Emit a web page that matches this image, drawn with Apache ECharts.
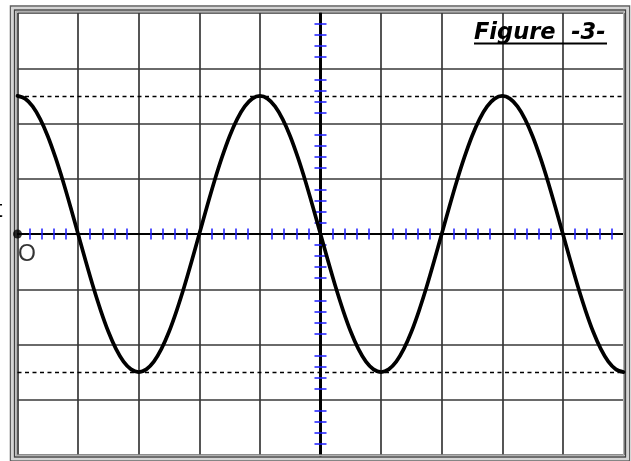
<!DOCTYPE html>
<html>
<head>
<meta charset="utf-8">
<title>Figure -3-</title>
<script src="https://cdn.jsdelivr.net/npm/echarts@6/dist/echarts.min.js"></script>
<style>
  html, body { margin: 0; padding: 0; background: #ffffff; }
  #chart { width: 631px; height: 461px; }
</style>
</head>
<body>
<div id="chart"></div>
<script>
// Oscilloscope trace, read every 1/8 division: time in horizontal divisions,
// amplitude in vertical divisions
const timeDiv = [
  0, 0.125, 0.25, 0.375, 0.5, 0.625, 0.75, 0.875,
  1, 1.125, 1.25, 1.375, 1.5, 1.625, 1.75, 1.875,
  2, 2.125, 2.25, 2.375, 2.5, 2.625, 2.75, 2.875,
  3, 3.125, 3.25, 3.375, 3.5, 3.625, 3.75, 3.875,
  4, 4.125, 4.25, 4.375, 4.5, 4.625, 4.75, 4.875,
  5, 5.125, 5.25, 5.375, 5.5, 5.625, 5.75, 5.875,
  6, 6.125, 6.25, 6.375, 6.5, 6.625, 6.75, 6.875,
  7, 7.125, 7.25, 7.375, 7.5, 7.625, 7.75, 7.875,
  8, 8.125, 8.25, 8.375, 8.5, 8.625, 8.75, 8.875,
  9, 9.125, 9.25, 9.375, 9.5, 9.625, 9.75, 9.875,
  10
];
const traceDiv = [
  2.5, 2.45, 2.31, 2.08, 1.77, 1.39, 0.96, 0.49,
  0, -0.49, -0.96, -1.39, -1.77, -2.08, -2.31, -2.45,
  -2.5, -2.45, -2.31, -2.08, -1.77, -1.39, -0.96, -0.49,
  0, 0.49, 0.96, 1.39, 1.77, 2.08, 2.31, 2.45,
  2.5, 2.45, 2.31, 2.08, 1.77, 1.39, 0.96, 0.49,
  0, -0.49, -0.96, -1.39, -1.77, -2.08, -2.31, -2.45,
  -2.5, -2.45, -2.31, -2.08, -1.77, -1.39, -0.96, -0.49,
  0, 0.49, 0.96, 1.39, 1.77, 2.08, 2.31, 2.45,
  2.5, 2.45, 2.31, 2.08, 1.77, 1.39, 0.96, 0.49,
  0, -0.49, -0.96, -1.39, -1.77, -2.08, -2.31, -2.45,
  -2.5
];
// Dashed reference levels at the peaks
const peakLevels = [2.5, -2.5];
// Screen extent in divisions
const xRange = [0, 10];
const yRange = [-4, 4];
const origin = [[0, 0]];
const originLabel = 'O';
const titleText = 'Figure  -3-';
const sideLabel = 't';

// Graticule geometry (pixels)
const G = { left: 17.5, top: 13, width: 606, height: 442 };
const TICK_BLUE = '#1c1cff';
const GRID_GRAY = '#383838';

const chart = echarts.init(document.getElementById('chart'), null, { renderer: 'canvas' });

function xAxisDef(position) {
  return {
    type: 'value', min: xRange[0], max: xRange[1], interval: 1, position: position,
    axisLine: { show: position === 'bottom', onZero: true, lineStyle: { color: '#000', width: 2.2 } },
    axisTick: { show: false },
    minorTick: { show: true, splitNumber: 5, length: 5.5, lineStyle: { color: TICK_BLUE, width: 1.5 } },
    axisLabel: { show: false },
    splitLine: { show: position === 'bottom', lineStyle: { color: GRID_GRAY, width: 1.7 } },
    minorSplitLine: { show: false }
  };
}
function yAxisDef(position) {
  return {
    type: 'value', min: yRange[0], max: yRange[1], interval: 1, position: position,
    offset: -G.width / 2,
    axisLine: { show: position === 'left', onZero: false, lineStyle: { color: '#000', width: 3 } },
    axisTick: { show: false },
    minorTick: { show: true, splitNumber: 5, length: 6, lineStyle: { color: TICK_BLUE, width: 1.5 } },
    axisLabel: { show: false },
    splitLine: { show: position === 'left', lineStyle: { color: GRID_GRAY, width: 1.7 } },
    minorSplitLine: { show: false }
  };
}

const framePad = [
  { d: 7, color: '#5e5e5e', w: 1.5 },
  { d: 5, color: '#d4d4d4', w: 2 },
  { d: 3, color: '#404040', w: 1.5 },
  { d: 1.2, color: '#b0b0b0', w: 1.4 }
];

const option = {
  animation: false,
  backgroundColor: '#ffffff',
  grid: { left: G.left, top: G.top, width: G.width, height: G.height, containLabel: false },
  xAxis: [xAxisDef('bottom'), xAxisDef('top')],
  yAxis: [yAxisDef('left'), yAxisDef('right')],
  series: [
    {
      type: 'line',
      xAxisIndex: 0, yAxisIndex: 0,
      data: timeDiv.map((t, i) => [t, traceDiv[i]]),
      smooth: 0.3,
      showSymbol: false,
      lineStyle: { color: '#000', width: 3.7, join: 'round', cap: 'round' },
      z: 5,
      markLine: {
        silent: true,
        symbol: 'none',
        label: { show: false },
        lineStyle: { color: '#000', type: [4, 3.5], width: 1.4 },
        data: peakLevels.map(v => ({ yAxis: v }))
      }
    },
    {
      type: 'scatter',
      xAxisIndex: 0, yAxisIndex: 0,
      data: origin,
      clip: false,
      symbol: 'circle',
      symbolSize: 9,
      itemStyle: { color: '#000' },
      z: 20,
      label: {
        show: true, formatter: originLabel, position: 'bottom',
        offset: [9.5, 0],
        fontFamily: 'Liberation Sans', fontSize: 23, color: '#000'
      }
    }
  ],
  graphic: [
    // bevelled screen frame
    ...framePad.map(f => ({
      type: 'rect', silent: true, z: 1,
      shape: { x: G.left - f.d, y: G.top - f.d, width: G.width + 2 * f.d - 1, height: G.height + 2 * f.d - 1 },
      style: { fill: null, stroke: f.color, lineWidth: f.w }
    })),
    {
      type: 'text', z: 11, left: 474, top: 21.5,
      style: {
        text: titleText, fill: '#000',
        font: 'italic bold 22.5px "DejaVu Sans"'
      }
    },
    {
      type: 'line', z: 11,
      shape: { x1: 474, y1: 43.5, x2: 607, y2: 43.5 },
      style: { stroke: '#000', lineWidth: 2 }
    },
    {
      type: 'text', z: 11, left: -4, top: 199,
      style: { text: sideLabel, fill: '#000', font: '23px "Liberation Sans"' }
    }
  ]
};

chart.setOption(option);
</script>
</body>
</html>
